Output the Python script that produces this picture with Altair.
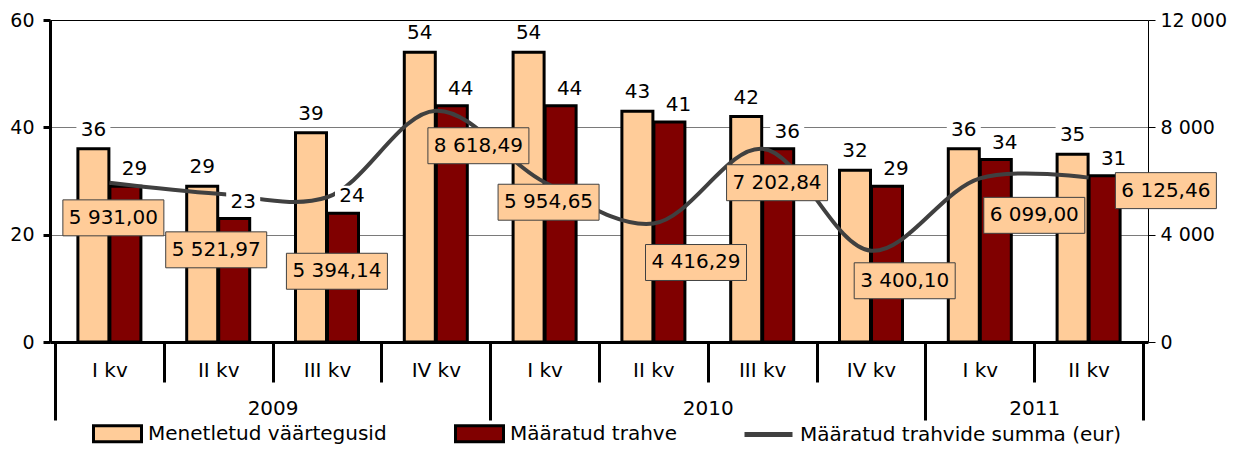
import altair as alt
import pandas as pd

# ---------------- data ----------------
quarters = ["I kv", "II kv", "III kv", "IV kv", "I kv", "II kv", "III kv", "IV kv", "I kv", "II kv"]
years = ["2009", "2010", "2011"]
year_spans = [4, 4, 2]
menetletud = [36, 29, 39, 54, 54, 43, 42, 32, 36, 35]
maaratud = [29, 23, 24, 44, 44, 41, 36, 29, 34, 31]
summa = [5931.00, 5521.97, 5394.14, 8618.49, 5954.65, 4416.29, 7202.84, 3400.10, 6099.00, 6125.46]

S1 = "Menetletud väärtegusid"
S2 = "Määratud trahve"
S3 = "Määratud trahvide summa (eur)"

# label-box placement (pixel offsets from the line point) - layout only
box_dx = [4, -2, 10, 43, 4, 43, 15, 34, 55, 78]
box_dy = [35, 56, 74, 35, 20, 39, 34, 30, 37, 13]

# ---------------- layout / style ----------------
W, H = 1098, 322
FONT = "DejaVu Sans"
FS = 20
FS_AX = 19
ORANGE = "#FFCC99"
MAROON = "#800000"
LINEC = "#404040"
GRID = "#7a7a7a"
YL_MAX, YR_MAX = 60, 12000
BAR_W = 31
BAR_OFF = 16

n = len(quarters)
pos = [i + 0.5 for i in range(n)]
bars = pd.DataFrame({"pos": pos * 2, "value": menetletud + maaratud,
                     "series": [S1] * n + [S2] * n})
line = pd.DataFrame({"pos": pos, "summa": summa, "series": [S3] * n,
                     "dx": box_dx, "dy": box_dy})

# axis value lists
year_bounds = [0]
for s in year_spans:
    year_bounds.append(year_bounds[-1] + s)
quarter_bounds = [i for i in range(1, n) if i not in year_bounds]
year_centers = [(year_bounds[i] + year_bounds[i + 1]) / 2 for i in range(len(years))]

quarter_expr = "[" + ",".join("'%s'" % q for q in quarters) + "][floor(datum.value)]"
year_expr = ("[" + ",".join("'%s'" % y for y in years) + "][indexof(["
             + ",".join(str(c) for c in year_centers) + "], datum.value)]")

xscale = alt.Scale(domain=[0, n], nice=False, zero=False)
yL = alt.Scale(domain=[0, YL_MAX], nice=False, zero=True)
yR = alt.Scale(domain=[0, YR_MAX], nice=False, zero=True)

axA = alt.Axis(values=pos, orient="bottom", labelExpr=quarter_expr, ticks=False,
               domain=True, domainColor="black", domainWidth=3, grid=False,
               labelFont=FONT, labelFontSize=FS, labelColor="black", labelPadding=28,
               labelBaseline="middle", labelAngle=0, title=None)
axB = alt.Axis(values=quarter_bounds, orient="bottom", labels=False, domain=False,
               ticks=True, tickSize=40, tickWidth=3, tickColor="black", grid=False,
               title=None)
axC = alt.Axis(values=year_bounds, orient="bottom", labels=False, domain=False,
               ticks=True, tickSize=78, tickWidth=3, tickColor="black", grid=False,
               title=None)
axD = alt.Axis(values=year_centers, orient="bottom", labelExpr=year_expr, ticks=False,
               domain=False, grid=False, labelFont=FONT, labelFontSize=FS,
               labelColor="black", labelPadding=66, labelBaseline="middle",
               labelAngle=0, title=None)

axLeft = alt.Axis(values=[0, 20, 40, 60], orient="left", domain=True, domainWidth=3,
                  domainColor="black", ticks=True, tickSize=7, tickWidth=3,
                  tickColor="black", grid=True,
                  gridColor=alt.condition(alt.datum.value == YL_MAX,
                                          alt.value("black"), alt.value(GRID)),
                  gridWidth=1,
                  labelFont=FONT, labelFontSize=FS_AX, labelColor="black",
                  labelPadding=9, title=None)
axRight = alt.Axis(values=[0, 4000, 8000, 12000], orient="right", domain=True,
                   domainWidth=1, domainColor="black", ticks=True, tickSize=7,
                   tickWidth=1, tickColor="black", grid=False,
                   labelExpr="replace(format(datum.value, ','), ',', ' ')",
                   labelFont=FONT, labelFontSize=FS_AX, labelColor="black",
                   labelPadding=5, title=None)

fill_scale = alt.Scale(domain=[S1, S2], range=[ORANGE, MAROON])
leg1 = alt.Legend(title=None, orient="none", legendX=42, legendY=388,
                  direction="horizontal",
                  symbolType="M-1,-0.33L1,-0.33L1,0.33L-1,0.33Z", symbolSize=2304,
                  symbolStrokeColor="black", symbolStrokeWidth=3,
                  labelFont=FONT, labelFontSize=FS, labelColor="black",
                  labelOffset=5, columnPadding=62, labelLimit=0)
leg2 = alt.Legend(title=None, orient="none", legendX=692, legendY=388,
                  symbolType="stroke", symbolSize=2304, symbolStrokeWidth=5,
                  labelFont=FONT, labelFontSize=FS, labelColor="black", labelOffset=5,
                  labelLimit=0)

box_path = "M-1,-0.356L1,-0.356L1,0.356L-1,0.356Z"
lab_path = "M-1,-0.62L1,-0.62L1,0.62L-1,0.62Z"

layers = []

# bars
for s, off, ax, leg in [(S1, -BAR_OFF, axA, leg1), (S2, BAR_OFF, axB, None)]:
    enc = dict(
        x=alt.X("pos:Q", scale=xscale, axis=ax),
        y=alt.Y("value:Q", scale=yL, axis=axLeft if s == S1 else None),
        fill=alt.Fill("series:N", scale=fill_scale, legend=leg),
    )
    layers.append(
        alt.Chart(bars).transform_filter(alt.datum.series == s)
        .mark_bar(orient="vertical", size=BAR_W, xOffset=off, stroke="black",
                  strokeWidth=3, opacity=1)
        .encode(**enc)
    )

# line
layers.append(
    alt.Chart(line).mark_line(interpolate="catmull-rom", strokeWidth=4)
    .encode(
        x=alt.X("pos:Q", scale=xscale, axis=axC),
        y=alt.Y("summa:Q", scale=yR, axis=axRight),
        stroke=alt.Stroke("series:N", scale=alt.Scale(domain=[S3], range=[LINEC]),
                          legend=leg2),
    )
)

# bar value labels with white background
for s, ldx, ldy in [(S1, -BAR_OFF, -19), (S2, BAR_OFF + 9, -17)]:
    base = alt.Chart(bars).transform_filter(alt.datum.series == s)
    enc = dict(x=alt.X("pos:Q", scale=xscale, axis=None),
               y=alt.Y("value:Q", scale=yL, axis=None))
    layers.append(
        base.mark_point(shape=lab_path, size=34 ** 2, filled=True, fill="white",
                        strokeWidth=0, opacity=1, xOffset=ldx, yOffset=ldy)
        .encode(**enc)
    )
    layers.append(
        base.mark_text(font=FONT, fontSize=FS, color="black", baseline="middle",
                       dx=ldx, dy=ldy)
        .encode(text=alt.Text("value:Q"), **enc)
    )

# line value boxes
lab = (alt.Chart(line)
       .transform_calculate(
           lx="datum.pos + datum.dx * %f" % (n / W),
           ly="datum.summa - datum.dy * %f" % (YR_MAX / H),
           label="replace(replace(format(datum.summa, ',.2f'), ',', ' '), '.', ',')"))
layers.append(
    lab.mark_point(shape=box_path, size=101 ** 2, filled=True, fill=ORANGE,
                   stroke=LINEC, strokeWidth=1, opacity=1)
    .encode(x=alt.X("lx:Q", scale=xscale, axis=axD),
            y=alt.Y("ly:Q", scale=yR, axis=None))
)
layers.append(
    lab.mark_text(font=FONT, fontSize=FS, color="black", baseline="middle")
    .encode(x=alt.X("lx:Q", scale=xscale, axis=None),
            y=alt.Y("ly:Q", scale=yR, axis=None),
            text="label:N")
)

chart = (
    alt.layer(*layers)
    .resolve_scale(y="independent")
    .resolve_axis(x="independent", y="independent")
    .properties(width=W, height=H,
                autosize=alt.AutoSizeParams(type="none"),
                padding={"left": 42, "top": 12, "right": 80, "bottom": 104},
                background="white")
    .configure_view(stroke=None)
)

chart.save("out.html", embed_options={"renderer": "svg", "actions": False})
